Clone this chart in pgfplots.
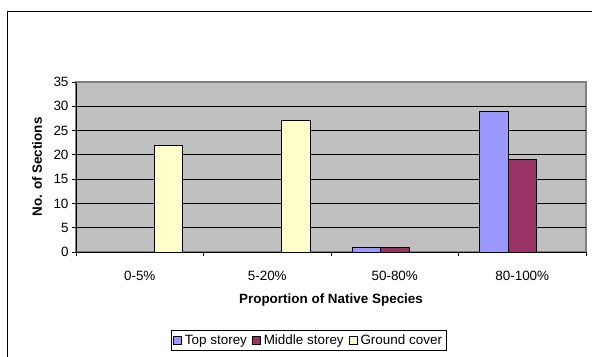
\documentclass[border=0pt]{standalone}
\usepackage{pgfplots}
\pgfplotsset{compat=1.18}
\usepackage{fontspec}
\setmainfont{Liberation Sans}
\definecolor{topc}{HTML}{9999FF}
\definecolor{midc}{HTML}{993366}
\definecolor{grc}{HTML}{FFFFCC}
\definecolor{plotbg}{HTML}{C0C0C0}
\definecolor{bordergray}{HTML}{808080}
\begin{document}
\begin{tikzpicture}[x=1bp,y=1bp]
\path[use as bounding box, clip] (0,0) rectangle (592,356);
\fill[white] (0,0) rectangle (592,356);
\draw[black, line width=0.9bp] (7,-10) rectangle (610,345);
\begin{axis}[
  at={(76bp,104bp)}, anchor=south west,
  scale only axis, width=510bp, height=170bp,
  xmin=-0.5, xmax=3.5, ymin=0, ymax=35,
  ytick={0,5,...,35},
  xtick={-0.5,0.5,1.5,2.5,3.5},
  xticklabels={0-5\%,5-20\%,50-80\%,80-100\%},
  x tick label as interval,
  axis x line*=bottom, axis y line*=left,
  axis line style={black, line width=0.9bp, -},
  axis background/.style={fill=plotbg, draw=bordergray, line width=1.2bp},
  tick align=outside, major tick length=4bp,
  tick style={black, line width=0.8bp},
  ymajorgrids, grid style={black, line width=0.8bp},
  /pgf/number format/assume math mode=true,
  tick label style={font=\fontsize{13.5}{16}\selectfont},
  xticklabel style={anchor=base, yshift=-24bp},
  xlabel={Proportion of Native Species},
  ylabel={No. of Sections},
  every axis x label/.style={at={(axis description cs:0.5,-0.282)}, anchor=center, font=\fontsize{13.5}{16}\selectfont\bfseries},
  every axis y label/.style={at={(axis description cs:-0.0765,0.5)}, rotate=90, anchor=center, font=\fontsize{13.5}{16}\selectfont\bfseries},
  ybar=0pt, bar width=28.5bp,
  legend columns=3,
  legend style={at={(axis description cs:0.456,-0.52)}, anchor=center,
    draw=black, fill=white, line width=0.8bp, font=\fontsize{13.5}{16}\selectfont,
    inner xsep=2bp, inner ysep=2.5bp,
    /tikz/every odd column/.append style={column sep=1bp},
    /tikz/every even column/.append style={column sep=3bp}},
  legend image code/.code={\draw[#1, draw=black, line width=0.8bp] (0bp,-4bp) rectangle (8bp,4bp);},
]
\addplot[fill=topc, draw=black, line width=0.9bp] coordinates {(2,1) (3,29)};
\addplot[fill=midc, draw=black, line width=0.9bp] coordinates {(2,1) (3,19)};
\addplot[fill=grc, draw=black, line width=0.9bp] coordinates {(0,22) (1,27)};
\legend{Top storey,Middle storey,Ground cover}
\draw[bordergray, line width=1.2bp] (rel axis cs:0,1) -- (rel axis cs:1,1);
\end{axis}
\end{tikzpicture}
\end{document}
